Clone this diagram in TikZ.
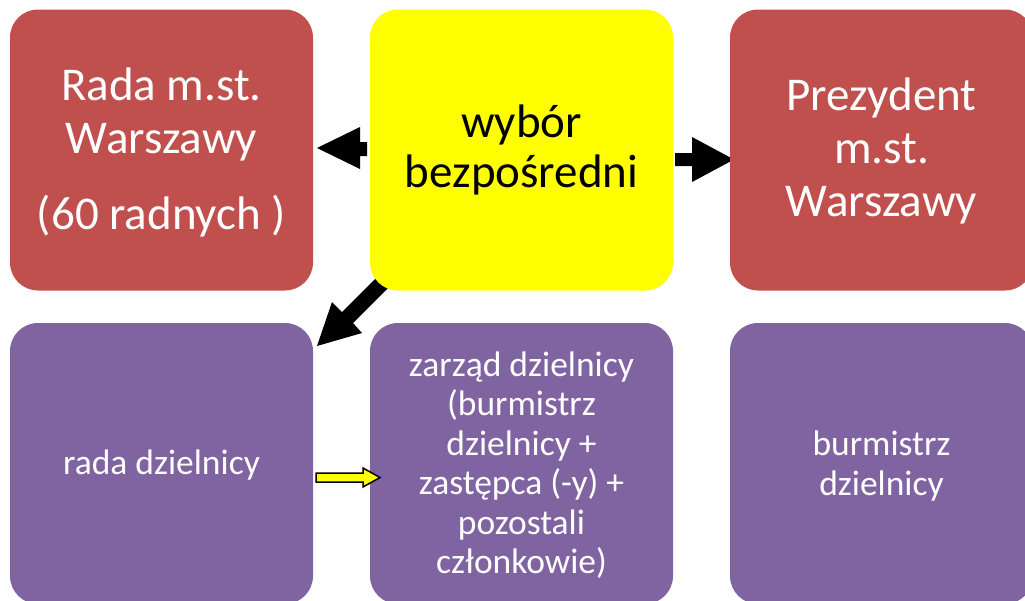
\documentclass[tikz,border=0pt]{standalone}
\usepackage{fontspec}
\setmainfont{Carlito}
\definecolor{redbox}{HTML}{C0504D}
\definecolor{purplebox}{HTML}{8064A2}
\definecolor{yellowbox}{HTML}{FFFF00}
\begin{document}
\begin{tikzpicture}[x=1pt,y=-1pt,
  box/.style={rounded corners=28pt, minimum width=303pt, minimum height=281pt, inner sep=0pt},
  redb/.style={box, fill=redbox},
  yelb/.style={box, fill=yellowbox},
  purb/.style={box, fill=purplebox},
  bigw/.style={align=center, inner sep=0pt, text=white, font=\fontsize{47}{53}\selectfont},
  bigk/.style={align=center, inner sep=0pt, text=black, font=\fontsize{47}{50}\selectfont},
  smallw/.style={align=center, inner sep=0pt, text=white, font=\fontsize{35.5}{39.5}\selectfont},
  blockarrow/.style={fill=black},
  yarrow/.style={fill=yellowbox, draw=black, line width=1.5pt, line join=miter}]
\useasboundingbox (0,0) rectangle (1025,600);
% arrows drawn first so boxes overlap their ends
\fill[blockarrow] (317,148) -- (360,127) -- (360,142) -- (367,142) -- (367,156) -- (360,156) -- (360,169) -- cycle;
\fill[blockarrow] (675,153) -- (692,153) -- (692,137) -- (734,159.5) -- (692,182) -- (692,166) -- (675,166) -- cycle;
\fill[blockarrow] (377,277) -- (342,312) -- (332,302) -- (317,346) -- (362,333) -- (353,323) -- (388,288) -- cycle;
\node[redb] (rada) at (161.5,150) {};
\node[yelb] (wybor) at (521.5,150) {};
\node[redb] (prez) at (881.5,150) {};
\node[purb] (radadz) at (161.5,463.5) {};
\node[purb] (zarzad) at (521.5,463.5) {};
\node[purb] (burm) at (881.5,463.5) {};
\node[bigw] (radat) at (161.5,152) {Rada m.st.\\Warszawy\\[23pt](60 radnych )};
\node[bigk] (wybort) at (521.5,150) {wybór\\bezpośredni};
\node[bigw] (prezt) at (881.5,151) {Prezydent\\m.st.\\Warszawy};
\node[smallw] (radadzt) at (161.5,465) {rada dzielnicy};
\node[smallw] (zarzadt) at (521.5,465) {zarząd dzielnicy\\(burmistrz\\dzielnicy +\\zastępca (-y) +\\pozostali\\członkowie)};
\node[smallw] (burmt) at (881.5,466) {burmistrz\\dzielnicy};
\draw[yarrow] (316,473) -- (363,473) -- (363,468) -- (380,477.5) -- (363,487) -- (363,482) -- (316,482) -- cycle;
\end{tikzpicture}
\end{document}
